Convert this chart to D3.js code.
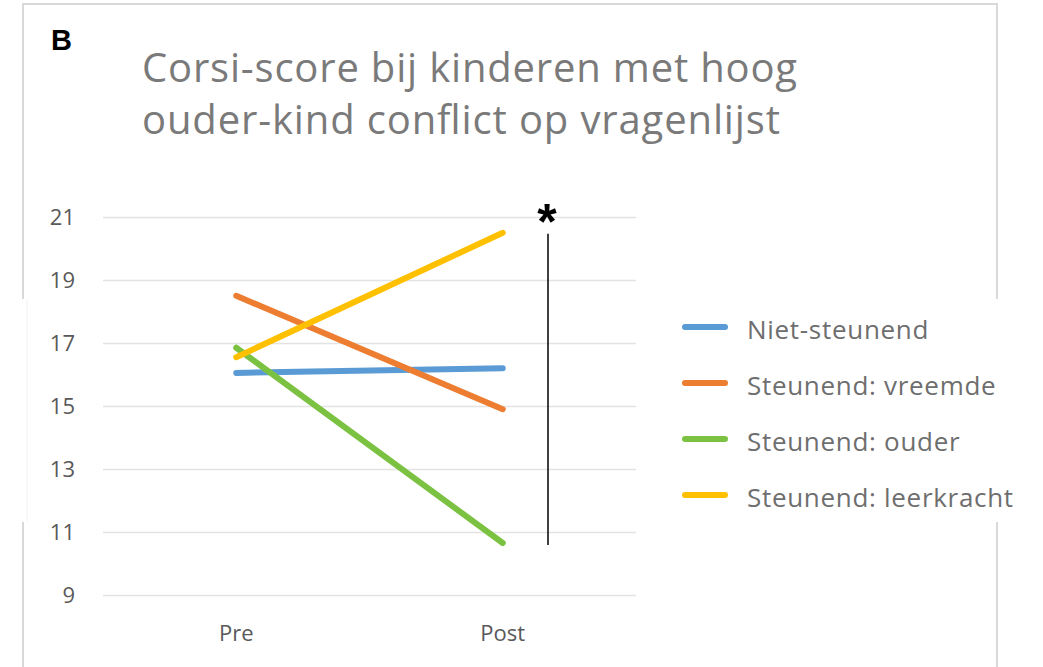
<!DOCTYPE html>
<html>
<head>
<meta charset="utf-8">
<script src="https://cdn.jsdelivr.net/npm/d3@7"></script>
<style>
  body { margin: 0; background: #fff; }
  svg { display: block; font-family: "Open Sans", "Noto Sans", sans-serif; }
</style>
</head>
<body>
<div id="chart"></div>
<script>
var width  = 1043;
var height = 667;

// data
var moments = ["Pre", "Post"];
var groups  = ["Niet-steunend", "Steunend: vreemde", "Steunend: ouder", "Steunend: leerkracht"];
var nietSteunend = [16.05, 16.2];
var vreemde      = [18.5, 14.9];
var ouder        = [16.85, 10.65];
var leerkracht   = [16.55, 20.5];
var yTicks = [9, 11, 13, 15, 17, 19, 21];
var titleLines = ["Corsi-score bij kinderen met hoog", "ouder-kind conflict op vragenlijst"];

var colors = ["#5b9bd5", "#ed7d31", "#7cc242", "#ffc000"];
var series = [nietSteunend, vreemde, ouder, leerkracht];

var svg = d3.select("#chart").append("svg")
    .attr("width", width)
    .attr("height", height);

// outer frame of the figure (bottom runs off the picture)
svg.append("rect")
   .attr("x", 23).attr("y", 4)
   .attr("width", 974).attr("height", 700)
   .attr("fill", "#fff")
   .attr("stroke", "#d9d9d9")
   .attr("stroke-width", 2);

// pasted white strip covering the frame sides
svg.append("rect")
   .attr("x", 21).attr("y", 299)
   .attr("width", 1010).attr("height", 223)
   .attr("fill", "#fff");
svg.append("line")
   .attr("x1", 27).attr("x2", 27).attr("y1", 299).attr("y2", 522)
   .attr("stroke", "#f3f3f3").attr("stroke-width", 1);

svg.append("text")
   .attr("x", 51).attr("y", 50)
   .attr("font-family", "Liberation Sans, Arial, sans-serif")
   .attr("font-weight", "bold")
   .attr("font-size", 29)
   .attr("fill", "#000")
   .text("B");

var titleWidths = [655, 638];
svg.selectAll(".title")
   .data(titleLines)
   .enter()
   .append("text")
   .attr("class", "title")
   .attr("x", 142)
   .attr("y", function(d, i) { return 82 + i * 52; })
   .attr("font-size", 40)
   .attr("textLength", function(d, i) { return titleWidths[i]; })
   .attr("lengthAdjust", "spacing")
   .attr("fill", "#7a7a7a")
   .text(function(d) { return d; });

var x = d3.scaleBand().domain(moments).range([103, 636]);
var y = d3.scaleLinear().domain([9, 21]).range([595, 217]);

var yAxis = svg.append("g")
   .attr("transform", "translate(103,0)")
   .call(d3.axisLeft(y).tickValues(yTicks).tickSize(-533).tickPadding(28));
yAxis.select(".domain").remove();
yAxis.selectAll(".tick line").attr("stroke", "#e3e3e3").attr("stroke-width", 1.5);
yAxis.selectAll(".tick text")
     .attr("font-family", "Open Sans, sans-serif")
     .attr("font-size", 22)
     .attr("fill", "#595959");

var xAxis = svg.append("g")
   .attr("transform", "translate(0,595)")
   .call(d3.axisBottom(x).tickSize(0).tickPadding(30));
xAxis.select(".domain").remove();
xAxis.selectAll(".tick text")
     .attr("font-family", "Open Sans, sans-serif")
     .attr("font-size", 22)
     .attr("fill", "#595959");

var cx = function(m) { return x(m) + x.bandwidth() / 2; };

var line = d3.line()
   .x(function(d, i) { return cx(moments[i]); })
   .y(function(d) { return y(d); });

svg.selectAll(".serie")
   .data(series)
   .enter()
   .append("path")
   .attr("class", "serie")
   .attr("d", line)
   .attr("fill", "none")
   .attr("stroke", function(d, i) { return colors[i]; })
   .attr("stroke-width", 6)
   .attr("stroke-linecap", "round");

// significance bar across post values
var postVals = series.map(function(s) { return s[1]; });
var sigX = 548;
svg.append("line")
   .attr("x1", sigX).attr("x2", sigX)
   .attr("y1", y(d3.max(postVals)) + 1)
   .attr("y2", y(d3.min(postVals)) + 2)
   .attr("stroke", "#000")
   .attr("stroke-width", 1.5);
svg.append("text")
   .attr("x", sigX - 1).attr("y", 239)
   .attr("text-anchor", "middle")
   .attr("font-family", "Liberation Sans, Arial, sans-serif")
   .attr("font-weight", "bold")
   .attr("font-size", 50)
   .attr("fill", "#000")
   .text("*");

// legend
var legend = svg.selectAll(".legend")
   .data(groups)
   .enter()
   .append("g")
   .attr("class", "legend")
   .attr("transform", function(d, i) { return "translate(685," + (327 + i * 56) + ")"; });

legend.append("line")
   .attr("x1", 0).attr("x2", 40)
   .attr("stroke", function(d, i) { return colors[i]; })
   .attr("stroke-width", 6)
   .attr("stroke-linecap", "round");

legend.append("text")
   .attr("x", 62).attr("y", 12)
   .attr("font-size", 26)
   .attr("letter-spacing", 0.7)
   .attr("fill", "#6e6e6e")
   .text(function(d) { return d; });
</script>
</body>
</html>
